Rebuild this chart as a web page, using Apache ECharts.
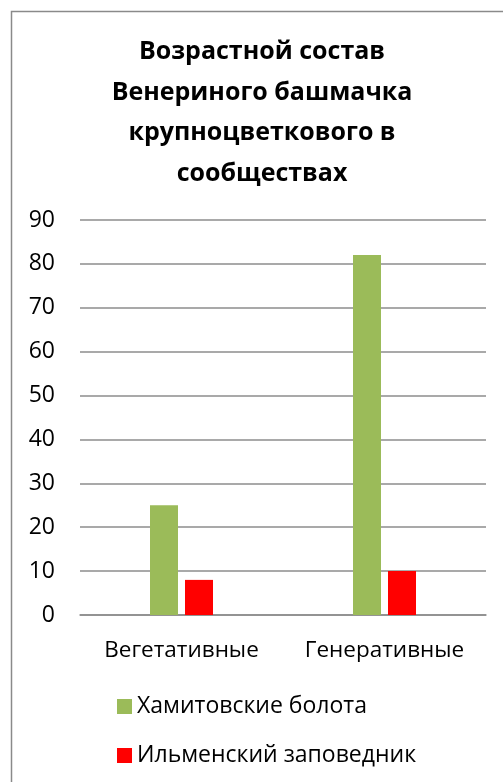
<!DOCTYPE html>
<html>
<head>
<meta charset="utf-8">
<script src="https://cdn.jsdelivr.net/npm/echarts@6/dist/echarts.min.js"></script>
<style>
html,body{margin:0;padding:0;background:#fff;}
#chart{width:503px;height:782px;}
</style>
</head>
<body>
<div id="chart"></div>
<script>
var titleText = 'Возрастной состав\nВенериного башмачка\nкрупноцветкового в\nсообществах';
var categories = ['Вегетативные', 'Генеративные'];
var seriesNames = ['Хамитовские болота', 'Ильменский заповедник'];
var hamitovskie = [25, 82];
var ilmenskiy = [8, 10];
var yTicks = {min: 0, max: 90, interval: 10};

var FONT = '"Open Sans", Calibri, sans-serif';
var chart = echarts.init(document.getElementById('chart'), null, {renderer: 'canvas'});
chart.setOption({
  backgroundColor: '#ffffff',
  animation: false,
  graphic: [{
    type: 'rect',
    shape: {x: 11.5, y: 11.5, width: 1000, height: 1000},
    style: {fill: 'none', stroke: '#8a8a8a', lineWidth: 1.5},
    silent: true, z: 100
  }],
  title: {
    text: titleText,
    left: 262,
    textAlign: 'center',
    top: 32,
    padding: 0,
    textStyle: {fontFamily: FONT, fontWeight: 'bold', fontSize: 25, lineHeight: 40.5, color: '#000'}
  },
  legend: {
    orient: 'vertical',
    left: 117,
    top: 695,
    padding: 0,
    itemWidth: 15,
    itemHeight: 15,
    itemGap: 26,
    icon: 'rect',
    textStyle: {fontFamily: FONT, fontSize: 23, color: '#000', lineHeight: 23},
    data: seriesNames
  },
  grid: {left: 80, right: 17, top: 220, bottom: 167, containLabel: false},
  xAxis: {
    type: 'category',
    data: categories,
    axisLine: {show: true, lineStyle: {color: '#8c8c8c', width: 1.5}},
    axisTick: {show: false},
    axisLabel: {fontFamily: FONT, fontSize: 22.5, color: '#000', margin: 24, interval: 0, hideOverlap: false}
  },
  yAxis: {
    type: 'value',
    min: yTicks.min, max: yTicks.max, interval: yTicks.interval,
    axisLine: {show: false},
    axisTick: {show: false},
    splitLine: {lineStyle: {color: '#8c8c8c', width: 1.5}},
    axisLabel: {fontFamily: FONT, fontSize: 23, color: '#000', margin: 25}
  },
  series: [
    {name: seriesNames[0], type: 'bar', data: hamitovskie, barWidth: 28, barGap: '25%',
     itemStyle: {color: '#9BBB59'}},
    {name: seriesNames[1], type: 'bar', data: ilmenskiy, barWidth: 28, barGap: '25%',
     itemStyle: {color: '#FF0000'}}
  ]
});
</script>
</body>
</html>
